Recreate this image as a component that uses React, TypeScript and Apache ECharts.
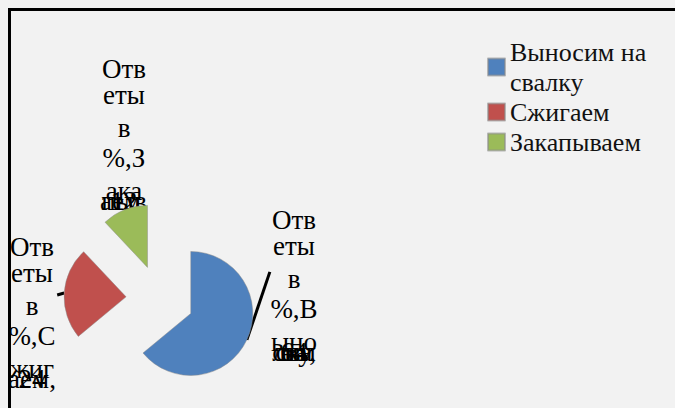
import React, { useEffect, useRef } from "react";
import * as echarts from "echarts";

const seriesName = "Ответы в %";
const categories = ["Выносим на свалку", "Сжигаем", "Закапываем"];
const values = [64, 24, 12];
const colors = ["#4F81BD", "#C0504D", "#9BBB59"];

// pie geometry (page pixels)
const CX = 160;
const CY = 299;
const R = 62;
const EXPLODE = 34;

// label placement (page pixels) and leader-line offsets
const labelX = [294, 32, 124];
const labelY = [220, 247, 69];
const leaderDelta: (number[] | null)[] = [[23, -68], [-7, 2], null];

const FONT = "Liberation Serif";
const LABEL_SIZE = 27;
const LEGEND_SIZE = 26;
const lineHeights = [0, 52, 14, 46, 20];

// break the label like Excel's narrow box did: 3 letters per line
function chunkLines(text: string): string[] {
  const out: string[] = [];
  text.split(" ").forEach((w) => {
    let i = 0;
    while (i < w.length) {
      let piece = w.slice(i, i + 3);
      i += 3;
      if (w.slice(i) === ",") {
        piece += ",";
        i += 1;
      }
      out.push(piece);
    }
  });
  return out;
}

function labelText(name: string, value: number): string {
  const lines = chunkLines(`${seriesName},${name}, ${value}`);
  return lines
    .map((l, i) => `{${i < lineHeights.length ? "l" + i : "z"}|${l}}`)
    .join("\n");
}

function wrapWords(name: string, maxChars: number): string {
  const words = name.split(" ");
  const lines: string[] = [];
  let cur = "";
  words.forEach((w) => {
    const t = cur ? cur + " " + w : w;
    if (t.length > maxChars && cur) {
      lines.push(cur);
      cur = w;
    } else cur = t;
  });
  if (cur) lines.push(cur);
  return lines.join("\n");
}

const rich: Record<string, any> = {
  z: { lineHeight: 0, fontSize: LABEL_SIZE, fontFamily: FONT },
};
lineHeights.forEach((h, i) => {
  rich["l" + i] = { lineHeight: h, fontSize: LABEL_SIZE, fontFamily: FONT };
});

function buildGraphics() {
  const total = values.reduce((a, b) => a + b, 0);
  const els: any[] = [];
  let acc = 0;
  values.forEach((v, i) => {
    const mid = ((acc + v / 2) / total) * Math.PI * 2;
    acc += v;
    const d = leaderDelta[i];
    if (d) {
      const sx = CX + (R + EXPLODE) * Math.sin(mid);
      const sy = CY - (R + EXPLODE) * Math.cos(mid);
      els.push({
        type: "line",
        shape: { x1: sx, y1: sy, x2: sx + d[0], y2: sy + d[1] },
        style: { stroke: "#000", lineWidth: 3 },
      });
    }
    els.push({
      type: "text",
      x: labelX[i],
      y: labelY[i],
      style: {
        text: labelText(categories[i], v),
        rich,
        align: "center",
        verticalAlign: "top",
        fontSize: LABEL_SIZE,
        fontFamily: FONT,
        fill: "#000",
      },
    });
  });
  return els;
}

export default function App() {
  const ref = useRef<HTMLDivElement>(null);
  useEffect(() => {
    if (!ref.current) return;
    const chart = echarts.init(ref.current, undefined, { renderer: "svg" });
    chart.setOption({
      animation: false,
      backgroundColor: "#f2f2f2",
      legend: {
        orient: "vertical",
        left: 487,
        top: 37,
        padding: 0,
        itemGap: 0,
        itemWidth: 17,
        itemHeight: 17,
        icon: "rect",
        data: categories,
        formatter: (name: string) => wrapWords(name, 10),
        textStyle: {
          fontFamily: FONT,
          fontSize: LEGEND_SIZE,
          lineHeight: 30,
          color: "#111",
        },
      },
      graphic: buildGraphics(),
      series: [
        {
          type: "pie",
          name: seriesName,
          center: [CX, CY],
          radius: R,
          startAngle: 90,
          clockwise: true,
          selectedMode: "multiple",
          selectedOffset: EXPLODE,
          emphasis: { disabled: true },
          label: { show: false },
          labelLine: { show: false },
          itemStyle: { borderColor: "rgba(140,140,140,0.6)", borderWidth: 0.8 },
          data: categories.map((c, i) => ({
            name: c,
            value: values[i],
            selected: true,
            itemStyle: { color: colors[i] },
          })),
        },
      ],
    });
    return () => chart.dispose();
  }, []);

  return (
    <div style={{ position: "fixed", left: 0, top: 0, width: 675, height: 408 }}>
      <div ref={ref} style={{ width: 675, height: 408 }} />
      <div style={{ position: "absolute", left: 0, top: 0, width: 8, height: 408, background: "#f2f2f2" }} />
      <div style={{ position: "absolute", left: 8, top: 8, width: 667, height: 2.5, background: "#000" }} />
      <div style={{ position: "absolute", left: 8, top: 8, width: 2.5, height: 400, background: "#000" }} />
    </div>
  );
}
